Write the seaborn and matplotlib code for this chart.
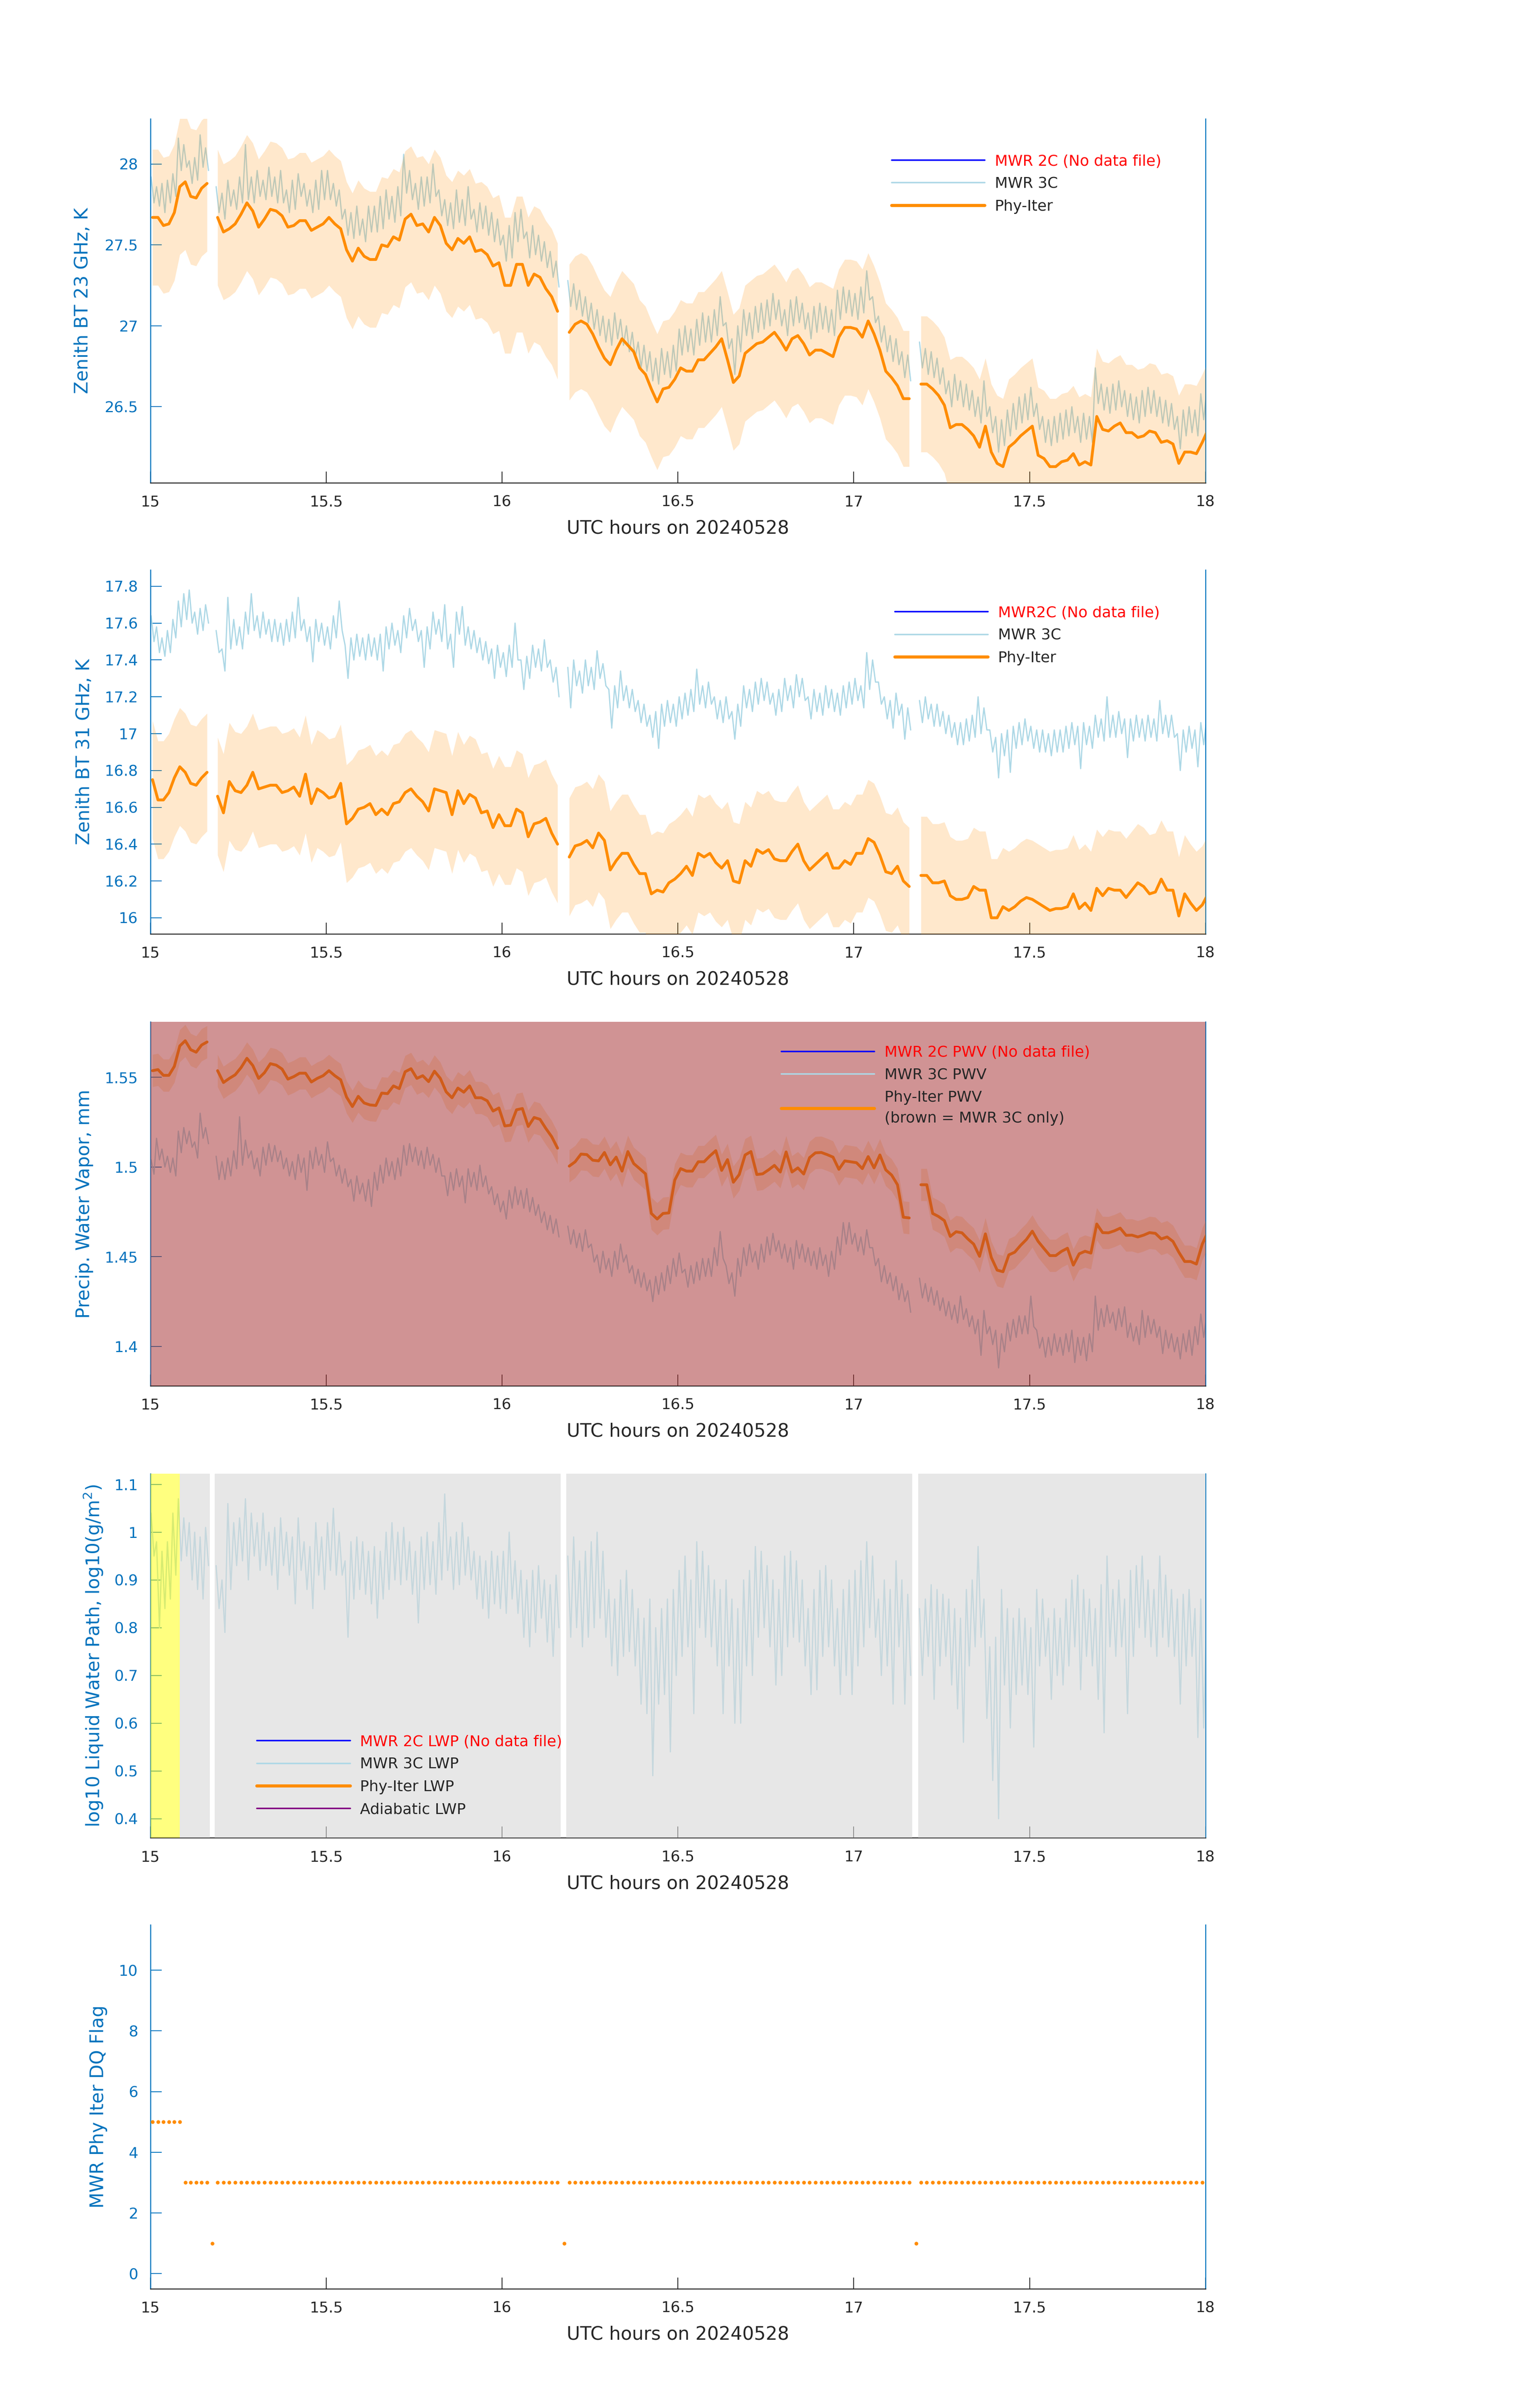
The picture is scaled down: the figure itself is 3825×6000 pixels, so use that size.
import numpy as np
import matplotlib
matplotlib.use("Agg")
import matplotlib.pyplot as plt
from matplotlib.lines import Line2D
from matplotlib.ticker import FormatStrFormatter
import seaborn as sns

sns.set_style("white")
plt.rcParams["font.family"] = ["DejaVu Sans"]

BLU = "#0072BD"
DARK = "#262626"
ORANGE = "#FF8C00"
LIGHTBLUE = "#ADD8E6"
BROWN = "#A53132"
GRAY = "#D7D7D7"

# Phy-Iter retrieval times: one run of points per hourly file
seg_start = [15.006, 15.191, 16.191, 17.191]
seg_step = [0.0155, 1 / 60, 1 / 60, 1 / 60]
seg_n = [11, 59, 59, 50]

xtick_vals = [15, 15.5, 16, 16.5, 17, 17.5, 18]

# ---- 23 GHz brightness temperature, K ----
bt23_phy = [
    27.67, 27.67, 27.62, 27.63, 27.70, 27.86, 27.89, 27.80, 27.79, 27.85, 27.88,
    27.67, 27.58, 27.60, 27.63, 27.69, 27.76, 27.71, 27.61, 27.66, 27.72,
    27.71, 27.68, 27.61, 27.62, 27.65, 27.65, 27.59, 27.61, 27.63, 27.67,
    27.63, 27.60, 27.47, 27.40, 27.48, 27.43, 27.41, 27.41, 27.50, 27.49,
    27.55, 27.53, 27.66, 27.69, 27.62, 27.63, 27.58, 27.67, 27.62, 27.51,
    27.47, 27.54, 27.51, 27.55, 27.46, 27.47, 27.44, 27.37, 27.39, 27.25,
    27.25, 27.38, 27.38, 27.25, 27.32, 27.30, 27.23, 27.18, 27.09,
    26.96, 27.01, 27.03, 27.01, 26.95, 26.87, 26.80, 26.76, 26.85, 26.92,
    26.88, 26.84, 26.74, 26.70, 26.61, 26.53, 26.61, 26.62, 26.67, 26.74,
    26.72, 26.72, 26.79, 26.79, 26.83, 26.87, 26.92, 26.79, 26.65, 26.69,
    26.83, 26.86, 26.89, 26.90, 26.93, 26.96, 26.91, 26.85, 26.92, 26.94,
    26.89, 26.82, 26.85, 26.85, 26.83, 26.81, 26.93, 26.99, 26.99, 26.98,
    26.93, 27.03, 26.95, 26.85, 26.72, 26.68, 26.63, 26.55, 26.55,
    26.64, 26.64, 26.61, 26.57, 26.51, 26.37, 26.39, 26.39, 26.36, 26.32,
    26.25, 26.38, 26.22, 26.15, 26.13, 26.25, 26.28, 26.32, 26.35, 26.38,
    26.20, 26.18, 26.13, 26.13, 26.16, 26.17, 26.21, 26.14, 26.16, 26.14,
    26.44, 26.36, 26.35, 26.38, 26.40, 26.34, 26.34, 26.31, 26.32, 26.35,
    26.34, 26.28, 26.29, 26.27, 26.15, 26.22, 26.22, 26.21, 26.28, 26.36,
]
bt23_hi = [
    27.92, 27.86, 27.88, 27.90, 27.94, 28.16, 28.12, 28.02, 28.04, 28.18, 28.10,
    27.86, 27.82, 27.90, 27.84, 27.92, 28.12, 27.92, 27.96, 27.90, 27.98,
    27.92, 27.96, 27.84, 27.90, 27.94, 27.88, 27.84, 27.90, 27.96, 27.96,
    27.88, 27.84, 27.72, 27.70, 27.74, 27.66, 27.74, 27.74, 27.80, 27.84,
    27.80, 27.86, 28.06, 27.96, 27.88, 27.92, 27.92, 28.00, 27.84, 27.78,
    27.76, 27.84, 27.78, 27.86, 27.72, 27.76, 27.74, 27.70, 27.66, 27.56,
    27.62, 27.70, 27.72, 27.58, 27.62, 27.56, 27.52, 27.46, 27.40,
    27.28, 27.26, 27.22, 27.18, 27.14, 27.10, 27.06, 27.04, 27.08, 27.04,
    27.00, 26.96, 26.90, 26.88, 26.84, 26.80, 26.86, 26.84, 26.88, 26.98,
    27.00, 26.98, 27.04, 27.08, 27.06, 27.10, 27.18, 27.02, 26.92, 27.00,
    27.10, 27.08, 27.12, 27.14, 27.16, 27.20, 27.16, 27.10, 27.16, 27.18,
    27.14, 27.08, 27.12, 27.14, 27.12, 27.10, 27.22, 27.24, 27.22, 27.20,
    27.24, 27.34, 27.18, 27.06, 27.00, 26.94, 26.92, 26.84, 26.82,
    26.90, 26.86, 26.84, 26.80, 26.74, 26.66, 26.70, 26.66, 26.64, 26.60,
    26.56, 26.66, 26.50, 26.44, 26.42, 26.48, 26.52, 26.56, 26.58, 26.62,
    26.52, 26.44, 26.42, 26.44, 26.46, 26.48, 26.50, 26.44, 26.46, 26.44,
    26.74, 26.64, 26.62, 26.64, 26.66, 26.60, 26.58, 26.56, 26.60, 26.62,
    26.60, 26.56, 26.54, 26.52, 26.44, 26.48, 26.50, 26.48, 26.58, 26.60,
]
bt23_lo = [
    27.76, 27.74, 27.70, 27.76, 27.80, 27.96, 27.98, 27.88, 27.90, 27.98, 27.96,
    27.70, 27.66, 27.74, 27.72, 27.76, 27.78, 27.76, 27.80, 27.78, 27.80,
    27.76, 27.76, 27.70, 27.72, 27.80, 27.74, 27.70, 27.72, 27.78, 27.78,
    27.74, 27.66, 27.56, 27.54, 27.56, 27.52, 27.58, 27.58, 27.60, 27.66,
    27.64, 27.68, 27.82, 27.78, 27.72, 27.74, 27.76, 27.80, 27.68, 27.62,
    27.60, 27.64, 27.62, 27.66, 27.58, 27.60, 27.56, 27.52, 27.50, 27.40,
    27.42, 27.52, 27.54, 27.42, 27.44, 27.40, 27.36, 27.30, 27.24,
    27.12, 27.10, 27.06, 27.02, 26.98, 26.94, 26.90, 26.88, 26.92, 26.88,
    26.84, 26.80, 26.74, 26.72, 26.66, 26.64, 26.70, 26.68, 26.72, 26.82,
    26.84, 26.82, 26.88, 26.90, 26.90, 26.94, 27.00, 26.86, 26.70, 26.84,
    26.94, 26.92, 26.96, 26.98, 27.00, 27.04, 27.00, 26.94, 27.00, 27.02,
    26.98, 26.92, 26.96, 26.98, 26.96, 26.94, 27.04, 27.08, 27.06, 27.04,
    27.08, 27.16, 27.02, 26.90, 26.84, 26.78, 26.76, 26.68, 26.66,
    26.74, 26.70, 26.68, 26.64, 26.58, 26.50, 26.54, 26.50, 26.48, 26.44,
    26.40, 26.44, 26.34, 26.22, 26.26, 26.32, 26.36, 26.40, 26.42, 26.44,
    26.36, 26.28, 26.26, 26.28, 26.30, 26.32, 26.34, 26.28, 26.30, 26.28,
    26.52, 26.48, 26.46, 26.48, 26.50, 26.44, 26.42, 26.40, 26.44, 26.46,
    26.44, 26.40, 26.38, 26.36, 26.24, 26.32, 26.34, 26.32, 26.42, 26.44,
]
bt23_err = 0.42

# ---- 31 GHz brightness temperature, K ----
bt31_phy = [
    16.75, 16.64, 16.64, 16.68, 16.76, 16.82, 16.79, 16.73, 16.72, 16.76, 16.79,
    16.66, 16.57, 16.74, 16.69, 16.68, 16.72, 16.79, 16.70, 16.71, 16.72,
    16.72, 16.68, 16.69, 16.71, 16.66, 16.78, 16.62, 16.70, 16.68, 16.65,
    16.66, 16.73, 16.51, 16.54, 16.59, 16.60, 16.62, 16.56, 16.59, 16.56,
    16.62, 16.63, 16.68, 16.70, 16.66, 16.63, 16.58, 16.70, 16.69, 16.68,
    16.56, 16.69, 16.62, 16.67, 16.65, 16.57, 16.58, 16.49, 16.56, 16.50,
    16.50, 16.59, 16.57, 16.44, 16.51, 16.52, 16.54, 16.46, 16.40,
    16.33, 16.39, 16.40, 16.42, 16.38, 16.46, 16.42, 16.26, 16.31, 16.35,
    16.35, 16.29, 16.24, 16.24, 16.13, 16.15, 16.14, 16.19, 16.21, 16.24,
    16.28, 16.23, 16.35, 16.33, 16.35, 16.30, 16.27, 16.31, 16.20, 16.19,
    16.31, 16.28, 16.37, 16.35, 16.37, 16.32, 16.31, 16.31, 16.36, 16.40,
    16.31, 16.26, 16.29, 16.32, 16.35, 16.27, 16.27, 16.31, 16.29, 16.35,
    16.35, 16.43, 16.41, 16.34, 16.25, 16.24, 16.28, 16.20, 16.17,
    16.23, 16.23, 16.19, 16.19, 16.20, 16.12, 16.10, 16.10, 16.11, 16.17,
    16.15, 16.15, 16.00, 16.00, 16.06, 16.04, 16.06, 16.09, 16.11, 16.10,
    16.08, 16.06, 16.04, 16.05, 16.05, 16.06, 16.13, 16.05, 16.08, 16.04,
    16.16, 16.12, 16.16, 16.15, 16.15, 16.11, 16.15, 16.19, 16.17, 16.13,
    16.14, 16.21, 16.15, 16.15, 16.01, 16.13, 16.08, 16.04, 16.07, 16.13,
]
bt31_hi = [
    17.64, 17.58, 17.52, 17.56, 17.62, 17.72, 17.76, 17.78, 17.66, 17.68, 17.70,
    17.56, 17.46, 17.74, 17.62, 17.58, 17.66, 17.76, 17.64, 17.66, 17.62,
    17.62, 17.60, 17.62, 17.66, 17.74, 17.62, 17.58, 17.62, 17.60, 17.58,
    17.64, 17.72, 17.48, 17.52, 17.54, 17.52, 17.54, 17.52, 17.54, 17.58,
    17.60, 17.56, 17.64, 17.68, 17.62, 17.56, 17.58, 17.66, 17.62, 17.70,
    17.54, 17.66, 17.69, 17.58, 17.56, 17.52, 17.50, 17.46, 17.48, 17.44,
    17.48, 17.60, 17.40, 17.42, 17.48, 17.46, 17.51, 17.40, 17.36,
    17.36, 17.40, 17.34, 17.40, 17.36, 17.45, 17.38, 17.24, 17.26, 17.34,
    17.26, 17.24, 17.18, 17.16, 17.10, 17.12, 17.16, 17.18, 17.16, 17.20,
    17.22, 17.24, 17.35, 17.26, 17.28, 17.20, 17.18, 17.20, 17.12, 17.16,
    17.26, 17.24, 17.28, 17.30, 17.28, 17.22, 17.24, 17.30, 17.26, 17.32,
    17.30, 17.20, 17.24, 17.22, 17.26, 17.24, 17.22, 17.26, 17.28, 17.30,
    17.26, 17.44, 17.40, 17.28, 17.20, 17.18, 17.22, 17.16, 17.14,
    17.18, 17.20, 17.16, 17.16, 17.12, 17.10, 17.06, 17.06, 17.08, 17.10,
    17.20, 17.14, 17.02, 16.98, 17.00, 17.02, 17.04, 17.06, 17.08, 17.04,
    17.02, 17.02, 17.00, 17.02, 17.02, 17.04, 17.06, 17.04, 17.06, 17.04,
    17.10, 17.08, 17.20, 17.10, 17.12, 17.08, 17.08, 17.10, 17.08, 17.10,
    17.08, 17.18, 17.10, 17.10, 17.00, 17.02, 17.04, 17.02, 17.06, 17.08,
]
bt31_lo = [
    17.50, 17.44, 17.42, 17.44, 17.52, 17.58, 17.62, 17.60, 17.54, 17.56, 17.60,
    17.44, 17.34, 17.46, 17.48, 17.46, 17.54, 17.56, 17.52, 17.54, 17.50,
    17.50, 17.48, 17.50, 17.52, 17.56, 17.50, 17.39, 17.50, 17.48, 17.46,
    17.52, 17.56, 17.30, 17.40, 17.42, 17.40, 17.42, 17.40, 17.34, 17.46,
    17.48, 17.44, 17.52, 17.56, 17.50, 17.36, 17.46, 17.54, 17.50, 17.46,
    17.36, 17.54, 17.48, 17.46, 17.44, 17.40, 17.38, 17.30, 17.36, 17.31,
    17.36, 17.40, 17.24, 17.30, 17.36, 17.34, 17.36, 17.28, 17.20,
    17.14, 17.26, 17.22, 17.26, 17.24, 17.30, 17.26, 17.03, 17.14, 17.18,
    17.14, 17.12, 17.06, 17.04, 16.98, 16.92, 17.04, 17.06, 17.04, 17.08,
    17.10, 17.12, 17.16, 17.14, 17.16, 17.08, 17.06, 17.08, 16.97, 17.04,
    17.14, 17.12, 17.16, 17.18, 17.16, 17.10, 17.12, 17.18, 17.14, 17.20,
    17.18, 17.08, 17.12, 17.10, 17.14, 17.12, 17.10, 17.14, 17.16, 17.18,
    17.14, 17.24, 17.28, 17.16, 17.08, 17.03, 17.10, 16.97, 17.02,
    17.06, 17.08, 17.04, 17.04, 17.00, 16.98, 16.94, 16.94, 16.96, 16.98,
    17.00, 17.02, 16.90, 16.76, 16.88, 16.79, 16.92, 16.94, 16.96, 16.92,
    16.90, 16.90, 16.88, 16.90, 16.90, 16.92, 16.94, 16.81, 16.94, 16.92,
    16.98, 16.96, 16.98, 16.98, 17.00, 16.87, 16.96, 16.98, 16.96, 16.98,
    16.96, 17.00, 16.98, 16.98, 16.80, 16.90, 16.92, 16.82, 16.94, 16.96,
]
bt31_err = 0.32

# ---- precipitable water vapor, mm ----
pwv_phy = [
    1.5537, 1.5543, 1.5511, 1.5511, 1.5561, 1.5675, 1.5704, 1.5654, 1.5640, 1.5680, 1.5697,
    1.5537, 1.5471, 1.5494, 1.5514, 1.5554, 1.5606, 1.5566, 1.5494, 1.5526, 1.5576,
    1.5568, 1.5546, 1.5490, 1.5504, 1.5523, 1.5523, 1.5474, 1.5494, 1.5509, 1.5537,
    1.5509, 1.5486, 1.5390, 1.5337, 1.5394, 1.5357, 1.5346, 1.5343, 1.5412, 1.5409,
    1.5452, 1.5437, 1.5531, 1.5548, 1.5494, 1.5509, 1.5476, 1.5534, 1.5494, 1.5419,
    1.5386, 1.5440, 1.5417, 1.5452, 1.5386, 1.5386, 1.5369, 1.5312, 1.5329, 1.5229,
    1.5233, 1.5319, 1.5326, 1.5226, 1.5276, 1.5266, 1.5215, 1.5169, 1.5105,
    1.5005, 1.5029, 1.5072, 1.5069, 1.5038, 1.5034, 1.5081, 1.5012, 1.5055, 1.4977,
    1.5086, 1.5019, 1.4991, 1.4962, 1.4741, 1.4710, 1.4741, 1.4744, 1.4927, 1.4991,
    1.4977, 1.4977, 1.5029, 1.5029, 1.5062, 1.5091, 1.4981, 1.5041, 1.4915, 1.4958,
    1.5067, 1.5086, 1.4958, 1.4962, 1.4984, 1.5009, 1.4972, 1.5084, 1.4972, 1.4995,
    1.4961, 1.5052, 1.5079, 1.5081, 1.5069, 1.5055, 1.4987, 1.5034, 1.5029, 1.5024,
    1.4991, 1.5058, 1.4995, 1.5067, 1.4984, 1.4955, 1.4901, 1.4720, 1.4716,
    1.4901, 1.4901, 1.4741, 1.4724, 1.4701, 1.4613, 1.4639, 1.4633, 1.4599, 1.4570,
    1.4502, 1.4627, 1.4496, 1.4425, 1.4416, 1.4510, 1.4525, 1.4563, 1.4596, 1.4642,
    1.4585, 1.4545, 1.4506, 1.4506, 1.4530, 1.4547, 1.4453, 1.4516, 1.4530, 1.4520,
    1.4682, 1.4634, 1.4633, 1.4644, 1.4659, 1.4619, 1.4620, 1.4610, 1.4620, 1.4634,
    1.4630, 1.4599, 1.4610, 1.4585, 1.4525, 1.4473, 1.4473, 1.4459, 1.4570, 1.4640,
]
pwv_hi = [
    1.504, 1.516, 1.510, 1.506, 1.505, 1.520, 1.522, 1.520, 1.514, 1.530, 1.522,
    1.506, 1.503, 1.505, 1.509, 1.528, 1.515, 1.509, 1.505, 1.511, 1.513,
    1.512, 1.509, 1.505, 1.503, 1.507, 1.505, 1.509, 1.511, 1.507, 1.514,
    1.505, 1.501, 1.499, 1.493, 1.495, 1.491, 1.493, 1.497, 1.501, 1.505,
    1.503, 1.505, 1.512, 1.513, 1.511, 1.509, 1.511, 1.507, 1.505, 1.495,
    1.497, 1.499, 1.495, 1.499, 1.497, 1.501, 1.495, 1.489, 1.485, 1.481,
    1.487, 1.489, 1.487, 1.488, 1.483, 1.479, 1.475, 1.473, 1.471,
    1.467, 1.465, 1.463, 1.465, 1.457, 1.451, 1.453, 1.449, 1.453, 1.457,
    1.451, 1.445, 1.443, 1.441, 1.437, 1.439, 1.441, 1.445, 1.449, 1.452,
    1.443, 1.445, 1.447, 1.449, 1.449, 1.455, 1.464, 1.445, 1.441, 1.449,
    1.455, 1.457, 1.453, 1.457, 1.461, 1.463, 1.459, 1.457, 1.455, 1.459,
    1.457, 1.455, 1.453, 1.455, 1.451, 1.453, 1.461, 1.469, 1.469, 1.463,
    1.461, 1.465, 1.455, 1.449, 1.445, 1.441, 1.439, 1.435, 1.431,
    1.438, 1.435, 1.433, 1.431, 1.427, 1.425, 1.423, 1.428, 1.421, 1.417,
    1.415, 1.420, 1.411, 1.409, 1.407, 1.413, 1.415, 1.417, 1.417, 1.428,
    1.409, 1.405, 1.405, 1.407, 1.405, 1.407, 1.409, 1.405, 1.405, 1.407,
    1.428, 1.421, 1.423, 1.419, 1.421, 1.422, 1.413, 1.411, 1.420, 1.417,
    1.415, 1.411, 1.409, 1.407, 1.405, 1.407, 1.409, 1.411, 1.418, 1.417,
]
pwv_lo = [
    1.496, 1.504, 1.500, 1.497, 1.495, 1.508, 1.513, 1.511, 1.505, 1.516, 1.513,
    1.493, 1.493, 1.495, 1.499, 1.501, 1.505, 1.499, 1.495, 1.501, 1.503,
    1.503, 1.499, 1.495, 1.493, 1.497, 1.487, 1.499, 1.501, 1.497, 1.503,
    1.495, 1.491, 1.489, 1.481, 1.485, 1.481, 1.478, 1.487, 1.491, 1.495,
    1.493, 1.495, 1.501, 1.503, 1.501, 1.499, 1.501, 1.497, 1.495, 1.484,
    1.487, 1.489, 1.480, 1.489, 1.487, 1.489, 1.485, 1.479, 1.475, 1.471,
    1.477, 1.479, 1.477, 1.475, 1.473, 1.469, 1.465, 1.463, 1.461,
    1.457, 1.455, 1.453, 1.455, 1.447, 1.441, 1.443, 1.439, 1.443, 1.447,
    1.441, 1.435, 1.433, 1.431, 1.425, 1.429, 1.431, 1.435, 1.439, 1.441,
    1.433, 1.435, 1.437, 1.439, 1.439, 1.445, 1.449, 1.435, 1.428, 1.439,
    1.445, 1.447, 1.443, 1.447, 1.451, 1.453, 1.449, 1.447, 1.443, 1.449,
    1.447, 1.445, 1.443, 1.445, 1.439, 1.443, 1.451, 1.457, 1.457, 1.453,
    1.451, 1.455, 1.445, 1.436, 1.435, 1.431, 1.426, 1.425, 1.419,
    1.427, 1.425, 1.423, 1.420, 1.417, 1.415, 1.413, 1.415, 1.411, 1.407,
    1.395, 1.407, 1.401, 1.388, 1.397, 1.403, 1.405, 1.407, 1.407, 1.411,
    1.399, 1.394, 1.395, 1.397, 1.395, 1.397, 1.391, 1.395, 1.392, 1.397,
    1.409, 1.411, 1.413, 1.409, 1.411, 1.405, 1.403, 1.401, 1.405, 1.407,
    1.405, 1.396, 1.399, 1.397, 1.393, 1.397, 1.395, 1.401, 1.405, 1.407,
]
pwv_err = 0.009

# ---- log10 liquid water path (MWR 3C only) ----
lwp_hi = [
    1.04, 0.98, 0.96, 0.98, 1.04, 1.07, 1.03, 1.02, 1.00, 0.99, 1.01,
    0.93, 0.90, 1.06, 1.02, 1.03, 1.07, 1.04, 1.02, 1.04, 1.00,
    1.01, 1.03, 1.00, 0.99, 1.03, 0.98, 0.97, 1.02, 0.99, 1.02,
    1.05, 1.00, 0.94, 0.98, 0.99, 0.98, 0.96, 0.97, 0.96, 1.00,
    1.02, 1.00, 1.01, 0.98, 0.96, 0.99, 1.00, 0.98, 1.02, 1.08,
    0.99, 1.00, 1.02, 0.99, 0.96, 0.95, 0.94, 0.96, 0.95, 0.96,
    1.00, 0.94, 0.92, 0.90, 0.92, 0.93, 0.90, 0.89, 0.91,
    0.95, 0.99, 0.94, 0.96, 0.98, 1.00, 0.96, 0.88, 0.86, 0.90,
    0.92, 0.88, 0.84, 0.82, 0.86, 0.80, 0.84, 0.86, 0.88, 0.92,
    0.95, 0.90, 0.98, 0.96, 0.93, 0.90, 0.88, 0.90, 0.86, 0.84,
    0.90, 0.92, 0.97, 0.96, 0.93, 0.90, 0.88, 0.95, 0.96, 0.94,
    0.90, 0.84, 0.88, 0.92, 0.93, 0.90, 0.84, 0.88, 0.90, 0.92,
    0.94, 0.98, 0.95, 0.86, 0.90, 0.88, 0.94, 0.90, 0.87,
    0.84, 0.86, 0.89, 0.88, 0.87, 0.86, 0.84, 0.82, 0.88, 0.90,
    0.97, 0.86, 0.76, 0.78, 0.88, 0.84, 0.82, 0.84, 0.82, 0.80,
    0.88, 0.86, 0.82, 0.84, 0.82, 0.86, 0.90, 0.91, 0.88, 0.86,
    0.84, 0.89, 0.95, 0.88, 0.90, 0.86, 0.92, 0.93, 0.95, 0.90,
    0.88, 0.95, 0.91, 0.88, 0.86, 0.87, 0.88, 0.84, 0.86, 0.84,
]
lwp_lo = [
    0.95, 0.80, 0.84, 0.86, 0.91, 0.94, 0.95, 0.90, 0.88, 0.86, 0.93,
    0.84, 0.79, 0.88, 0.93, 0.94, 0.90, 0.95, 0.92, 0.93, 0.91,
    0.88, 0.93, 0.91, 0.85, 0.92, 0.88, 0.84, 0.91, 0.88, 0.92,
    0.91, 0.91, 0.78, 0.86, 0.88, 0.87, 0.85, 0.82, 0.86, 0.88,
    0.90, 0.89, 0.90, 0.87, 0.81, 0.88, 0.89, 0.87, 0.90, 0.92,
    0.88, 0.89, 0.91, 0.90, 0.86, 0.84, 0.82, 0.85, 0.84, 0.83,
    0.86, 0.83, 0.78, 0.76, 0.79, 0.82, 0.77, 0.74, 0.80,
    0.78, 0.80, 0.76, 0.78, 0.80, 0.82, 0.78, 0.72, 0.70, 0.74,
    0.75, 0.72, 0.64, 0.62, 0.49, 0.64, 0.66, 0.54, 0.70, 0.74,
    0.76, 0.62, 0.80, 0.78, 0.76, 0.72, 0.62, 0.72, 0.60, 0.60,
    0.72, 0.70, 0.78, 0.80, 0.76, 0.68, 0.70, 0.76, 0.78, 0.77,
    0.72, 0.66, 0.67, 0.74, 0.76, 0.72, 0.66, 0.70, 0.66, 0.72,
    0.76, 0.80, 0.78, 0.70, 0.72, 0.64, 0.76, 0.64, 0.70,
    0.70, 0.74, 0.65, 0.72, 0.74, 0.68, 0.63, 0.56, 0.72, 0.76,
    0.78, 0.61, 0.48, 0.40, 0.68, 0.59, 0.66, 0.68, 0.66, 0.55,
    0.72, 0.74, 0.65, 0.70, 0.68, 0.72, 0.76, 0.67, 0.74, 0.72,
    0.65, 0.58, 0.76, 0.74, 0.76, 0.62, 0.74, 0.80, 0.78, 0.76,
    0.74, 0.78, 0.76, 0.74, 0.64, 0.72, 0.74, 0.57, 0.59, 0.72,
]

# ---- Phy-Iter data quality flag ----
dq_flag = [5] * 6 + [3] * 5 + [3] * 59 + [3] * 59 + [3] * 50
dq_bad_time = [15.176, 16.177, 17.177]
dq_bad_flag = [1, 1, 1]


def segment_times():
    return [s + h * np.arange(n) for s, h, n in zip(seg_start, seg_step, seg_n)]


def split_segments(values):
    arr = np.asarray(values, dtype=float)
    if arr.size != sum(seg_n):
        raise ValueError("series length %d, expected %d" % (arr.size, sum(seg_n)))
    return np.split(arr, np.cumsum(seg_n)[:-1])


def style_axes(ax, ylim, yticks, ylabel, label_x):
    ax.set_xlim(15, 18)
    ax.set_ylim(*ylim)
    ax.set_xticks(xtick_vals)
    ax.set_yticks(yticks)
    ax.xaxis.set_major_formatter(FormatStrFormatter("%g"))
    ax.yaxis.set_major_formatter(FormatStrFormatter("%g"))
    ax.spines["top"].set_visible(False)
    for side in ["left", "right"]:
        ax.spines[side].set_color(BLU)
        ax.spines[side].set_linewidth(0.6)
    ax.spines["bottom"].set_color(DARK)
    ax.spines["bottom"].set_linewidth(0.6)
    ax.tick_params(axis="x", which="major", direction="in", bottom=True, top=False,
                   length=6.7, width=0.5, color=DARK, labelcolor=DARK,
                   labelsize=9, pad=7.4)
    ax.tick_params(axis="y", which="major", direction="in", left=True, right=False,
                   length=6.7, width=0.5, color=BLU, labelcolor=BLU,
                   labelsize=9, pad=7.4)
    ax.set_xlabel("UTC hours on 20240528", fontsize=11, color=DARK, labelpad=6)
    ax.set_ylabel(ylabel, fontsize=11, color=BLU)
    ax.yaxis.set_label_coords(label_x, 0.5)
    ax.grid(False)


def add_legend(ax, handles, labels, anchor):
    leg = ax.legend(handles, labels, loc="upper left", bbox_to_anchor=anchor,
                    frameon=False, fontsize=9, handlelength=6.2,
                    handletextpad=0.65, labelspacing=0.54, borderpad=0,
                    borderaxespad=0)
    leg.get_texts()[0].set_color("red")
    for txt in leg.get_texts():
        txt.set_linespacing(1.55)
    leg.set_zorder(10)
    return leg


def draw_mwr(ax, times, hi, lo, color, zorder):
    for t, h, l in zip(times, split_segments(hi), split_segments(lo)):
        x = np.column_stack([t - 1 / 240, t + 1 / 240]).ravel()
        y = np.column_stack([h, l]).ravel()
        sns.lineplot(x=x, y=y, ax=ax, color=color, linewidth=0.75,
                     estimator=None, sort=False, legend=False, zorder=zorder)


def draw_phy(ax, times, values, err):
    for t, v in zip(times, split_segments(values)):
        ax.fill_between(t, v - err, v + err, color=ORANGE, alpha=0.2,
                        linewidth=0, zorder=2.6)
        sns.lineplot(x=t, y=v, ax=ax, color=ORANGE, linewidth=1.7,
                     estimator=None, sort=False, legend=False, zorder=2.7)


def legend_handles(n=3):
    h = [Line2D([], [], color="#0000FF", lw=0.9),
         Line2D([], [], color=LIGHTBLUE, lw=0.9),
         Line2D([], [], color=ORANGE, lw=1.85)]
    if n == 4:
        h.append(Line2D([], [], color="#800080", lw=0.9))
    return h


def shade_flags(ax, times):
    # yellow = flag 5, gray = flag 3; a run ends at its last point when the
    # next run in the same file follows, otherwise half a step past it
    for t, f, h in zip(times, split_segments(dq_flag), seg_step):
        start = 0
        x0 = max(t[0] - h / 2, 15.0)
        for i in range(1, len(f) + 1):
            if i == len(f) or f[i] != f[start]:
                x1 = t[i - 1] + h / 2 if i == len(f) else t[i - 1]
                if f[start] == 5:
                    ax.axvspan(x0, x1, color="#FFFF00", alpha=0.5, linewidth=0, zorder=3)
                elif f[start] == 3:
                    ax.axvspan(x0, x1, color=GRAY, alpha=0.58, linewidth=0, zorder=3)
                start = i
                x0 = x1


def main():
    fig = plt.figure(figsize=(12.75, 20), dpi=300)
    left, width, height = 0.098, 0.6873, 0.1512
    bottoms = [0.7995, 0.6122, 0.4245, 0.2368, 0.0495]
    axes = [fig.add_axes([left, b, width, height]) for b in bottoms]
    times = segment_times()

    # 23 GHz
    ax = axes[0]
    draw_mwr(ax, times, bt23_hi, bt23_lo, LIGHTBLUE, 2)
    draw_phy(ax, times, bt23_phy, bt23_err)
    style_axes(ax, (26.03, 28.28), [26.5, 27, 27.5, 28], "Zenith BT 23 GHz, K", -0.0555)
    add_legend(ax, legend_handles(), ["MWR 2C (No data file)", "MWR 3C", "Phy-Iter"],
               (0.7025, 0.9025))

    # 31 GHz
    ax = axes[1]
    draw_mwr(ax, times, bt31_hi, bt31_lo, LIGHTBLUE, 2)
    draw_phy(ax, times, bt31_phy, bt31_err)
    style_axes(ax, (15.913, 17.89), [16, 16.2, 16.4, 16.6, 16.8, 17, 17.2, 17.4, 17.6, 17.8],
               "Zenith BT 31 GHz, K", -0.054)
    add_legend(ax, legend_handles(), ["MWR2C (No data file)", "MWR 3C", "Phy-Iter"],
               (0.7056, 0.901))

    # PWV, whole window flagged brown (MWR 3C only)
    ax = axes[2]
    draw_mwr(ax, times, pwv_hi, pwv_lo, LIGHTBLUE, 2)
    draw_phy(ax, times, pwv_phy, pwv_err)
    ax.axvspan(15.0, 18.0, color=BROWN, alpha=0.52, linewidth=0, zorder=3)
    style_axes(ax, (1.378, 1.581), [1.4, 1.45, 1.5, 1.55], "Precip. Water Vapor, mm", -0.054)
    add_legend(ax, legend_handles(),
               ["MWR 2C PWV (No data file)", "MWR 3C PWV",
                "Phy-Iter PWV\n(brown = MWR 3C only)"],
               (0.598, 0.935))

    # LWP with data-quality shading
    ax = axes[3]
    draw_mwr(ax, times, lwp_hi, lwp_lo, LIGHTBLUE, 2)
    shade_flags(ax, times)
    style_axes(ax, (0.36, 1.1225), [0.4, 0.5, 0.6, 0.7, 0.8, 0.9, 1.0, 1.1],
               "log10 Liquid Water Path, log10(g/m$^2$)", -0.0437)
    add_legend(ax, legend_handles(4),
               ["MWR 2C LWP (No data file)", "MWR 3C LWP", "Phy-Iter LWP", "Adiabatic LWP"],
               (0.101, 0.283))

    # DQ flag
    ax = axes[4]
    flag_t = np.concatenate(times + [np.array(dq_bad_time)])
    flag_v = np.concatenate([np.asarray(dq_flag, float), np.asarray(dq_bad_flag, float)])
    sns.scatterplot(x=flag_t, y=flag_v, ax=ax, color=ORANGE, s=5, linewidth=0,
                    legend=False, zorder=3)
    style_axes(ax, (-0.5, 11.5), [0, 2, 4, 6, 8, 10], "MWR Phy Iter DQ Flag", -0.0407)

    fig.savefig("out.png", dpi=300)


main()
